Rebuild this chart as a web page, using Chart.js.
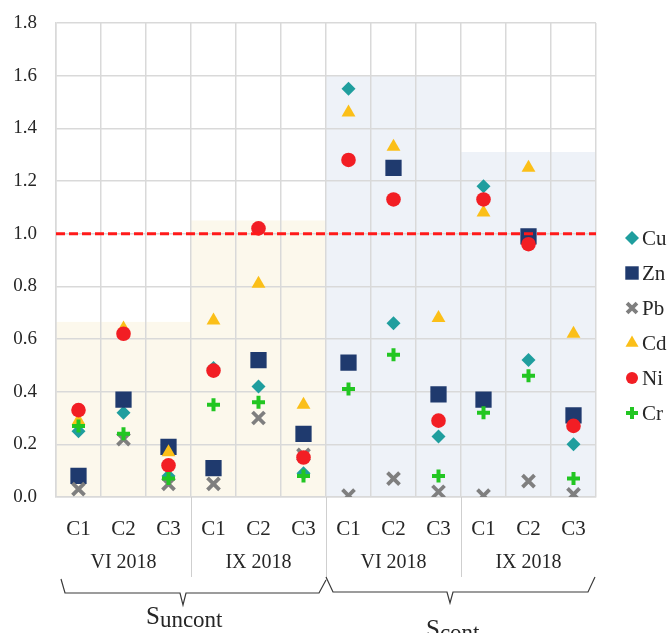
<!DOCTYPE html>
<html>
<head>
<meta charset="utf-8">
<script src="https://cdn.jsdelivr.net/npm/chart.js@4/dist/chart.umd.min.js"></script>
<style>
  html, body { margin: 0; padding: 0; background: #fff; }
  #wrap { width: 670px; height: 633px; }
</style>
</head>
<body>
<div id="wrap"><canvas id="chart" width="670" height="633"></canvas></div>
<script>
// samples per column, grouped by sampling period and site
const categories = ['C1', 'C2', 'C3', 'C1', 'C2', 'C3', 'C1', 'C2', 'C3', 'C1', 'C2', 'C3'];
const periods = ['VI 2018', 'IX 2018', 'VI 2018', 'IX 2018'];
const sites = [['S', 'uncont'], ['S', 'cont']];
// height of the shaded band behind each period group
const bandTops = [0.665, 1.05, 1.6, 1.31];
const limitValue = 1.0;

const cu = [0.25, 0.32, 0.08, 0.49, 0.42, 0.09, 1.55, 0.66, 0.23, 1.18, 0.52, 0.20];
const zn = [0.08, 0.37, 0.19, 0.11, 0.52, 0.24, 0.51, 1.25, 0.39, 0.37, 0.99, 0.31];
const pb = [0.03, 0.22, 0.05, 0.05, 0.30, 0.16, 0.005, 0.07, 0.02, 0.005, 0.06, 0.01];
const cd = [0.29, 0.64, 0.17, 0.67, 0.81, 0.35, 1.46, 1.33, 0.68, 1.08, 1.25, 0.62];
const ni = [0.33, 0.62, 0.12, 0.48, 1.02, 0.15, 1.28, 1.13, 0.29, 1.13, 0.96, 0.27];
const cr = [0.27, 0.24, 0.07, 0.35, 0.36, 0.08, 0.41, 0.54, 0.08, 0.32, 0.46, 0.07];

const SERIF = "'Liberation Serif', 'Times New Roman', serif";
const TEXT = '#262626';
const GRID = '#d9d9d9';

const series = [
  {label: 'Cu', data: cu, style: 'rectRot', r: 7, lr: 7, color: '#1f9e9e', bw: 0},
  {label: 'Zn', data: zn, style: 'rect', r: 11.5, lr: 9.5, color: '#1f3a6e', bw: 0},
  {label: 'Pb', data: pb, style: 'crossRot', r: 8.5, lr: 7, color: '#7f7f7f', bw: 3.8},
  {label: 'Cd', data: cd, style: 'triangle', r: 8, lr: 7.5, color: '#fbbf18', bw: 0},
  {label: 'Ni', data: ni, style: 'circle', r: 7.3, lr: 6, color: '#f21e24', bw: 0},
  {label: 'Cr', data: cr, style: 'cross', r: 6.5, lr: 6, color: '#22c622', bw: 4},
];

const datasets = series.map((s, i) => ({
  label: s.label,
  data: s.data,
  showLine: false,
  pointStyle: s.style,
  pointRadius: s.r,
  pointHoverRadius: s.r,
  pointBackgroundColor: s.color,
  pointBorderColor: s.color,
  pointBorderWidth: s.bw,
  borderColor: s.color,
  backgroundColor: s.color,
  order: series.length - i,   // later metals sit on top
}));

datasets.push({
  label: 'limit',
  data: [{x: 0, y: limitValue}, {x: categories.length, y: limitValue}],
  xAxisID: 'xLimit',
  showLine: true,
  borderColor: '#ff1a1a',
  borderWidth: 3,
  borderDash: [9, 4],
  pointRadius: 0,
  order: 0,
});

// shaded bands behind each period group
const bandsPlugin = {
  id: 'bands',
  beforeDraw(chart) {
    const {ctx, chartArea, scales: {x, y}} = chart;
    ctx.save();
    bandTops.forEach((top, g) => {
      const x0 = x.getPixelForValue(g * 3 - 0.5);
      const x1 = x.getPixelForValue(g * 3 + 2.5);
      const yt = y.getPixelForValue(top);
      ctx.fillStyle = g < 2 ? '#fcf8ec' : '#eef2f8';
      ctx.fillRect(x0, yt, x1 - x0, chartArea.bottom - yt);
    });
    ctx.restore();
  }
};

function drawSiteLabel(ctx, parts, x, y) {
  ctx.font = '25px ' + SERIF;
  ctx.fillText(parts[0], x, y);
  const w = ctx.measureText(parts[0]).width;
  ctx.font = '23px ' + SERIF;
  ctx.fillText(parts[1], x + w, y + 3.5);
}

const annotPlugin = {
  id: 'annot',
  afterDraw(chart) {
    const {ctx, chartArea, scales: {x}} = chart;
    const edge = i => x.getPixelForValue(i - 0.5);
    const bottom = chartArea.bottom;
    ctx.save();

    // separators under the axis
    ctx.strokeStyle = '#cfcfcf';
    ctx.lineWidth = 1;
    [[3, 577], [6, 580], [9, 577]].forEach(([i, yEnd]) => {
      const px = Math.round(edge(i)) + 0.5;
      ctx.beginPath();
      ctx.moveTo(px, bottom);
      ctx.lineTo(px, yEnd);
      ctx.stroke();
    });

    // period labels
    ctx.fillStyle = TEXT;
    ctx.font = '20px ' + SERIF;
    ctx.textAlign = 'center';
    ctx.textBaseline = 'middle';
    periods.forEach((p, g) => {
      ctx.fillText(p, (edge(g * 3) + edge(g * 3 + 3)) / 2, 563);
    });

    // braces
    ctx.strokeStyle = '#3a3a3a';
    ctx.lineWidth = 1.2;
    const l = edge(0), m = edge(6), r = edge(12);
    const braces = [
      [[l + 5, 579], [l + 9, 593], [180, 593], [183, 605], [186, 593], [m - 7, 593], [m, 580]],
      [[m, 577], [m + 7, 592], [447, 592], [450, 603], [453, 592], [r - 8, 592], [r - 1, 577]],
    ];
    braces.forEach(pts => {
      ctx.beginPath();
      pts.forEach(([px, py], k) => k ? ctx.lineTo(px, py) : ctx.moveTo(px, py));
      ctx.stroke();
    });

    // site labels
    ctx.textAlign = 'left';
    ctx.textBaseline = 'alphabetic';
    drawSiteLabel(ctx, sites[0], 146, 623.5);
    drawSiteLabel(ctx, sites[1], 426, 636.5);

    // legend
    const lx = chartArea.right + 36;
    series.forEach((s, i) => {
      const ly = 238 + i * 35;
      ctx.fillStyle = s.color;
      ctx.strokeStyle = s.color;
      ctx.lineWidth = s.bw;
      Chart.helpers.drawPoint(ctx, {pointStyle: s.style, radius: s.lr, rotation: 0, borderWidth: s.bw}, lx, ly);
      ctx.fillStyle = TEXT;
      ctx.font = '21px ' + SERIF;
      ctx.textBaseline = 'middle';
      ctx.fillText(s.label, lx + 10, ly + 1);
    });
    ctx.restore();
  }
};

new Chart(document.getElementById('chart'), {
  type: 'line',
  data: {labels: categories, datasets},
  plugins: [bandsPlugin, annotPlugin],
  options: {
    responsive: false,
    animation: false,
    events: [],
    layout: {padding: {top: 23, right: 74, left: 0, bottom: 0}},
    plugins: {legend: {display: false}, tooltip: {enabled: false}},
    scales: {
      x: {
        type: 'category',
        offset: true,
        grid: {offset: true, color: GRID, lineWidth: 1.5, drawTicks: false},
        border: {color: GRID, width: 1.5},
        ticks: {color: TEXT, font: {family: SERIF, size: 21}, padding: 20, autoSkip: false, maxRotation: 0},
        afterFit: s => { s.height = 136; },
      },
      xLimit: {
        type: 'linear',
        display: false,
        min: 0,
        max: categories.length,
      },
      y: {
        min: 0,
        max: 1.8,
        grid: {color: GRID, lineWidth: 1.5, drawTicks: false},
        border: {color: GRID, width: 1.5},
        ticks: {
          stepSize: 0.2,
          color: TEXT,
          font: {family: SERIF, size: 19},
          padding: 19,
          callback: v => v.toFixed(1),
        },
        afterFit: s => { s.width = 56; s.paddingTop = 0; s.paddingBottom = 0; },
      },
    },
  },
});
</script>
</body>
</html>
